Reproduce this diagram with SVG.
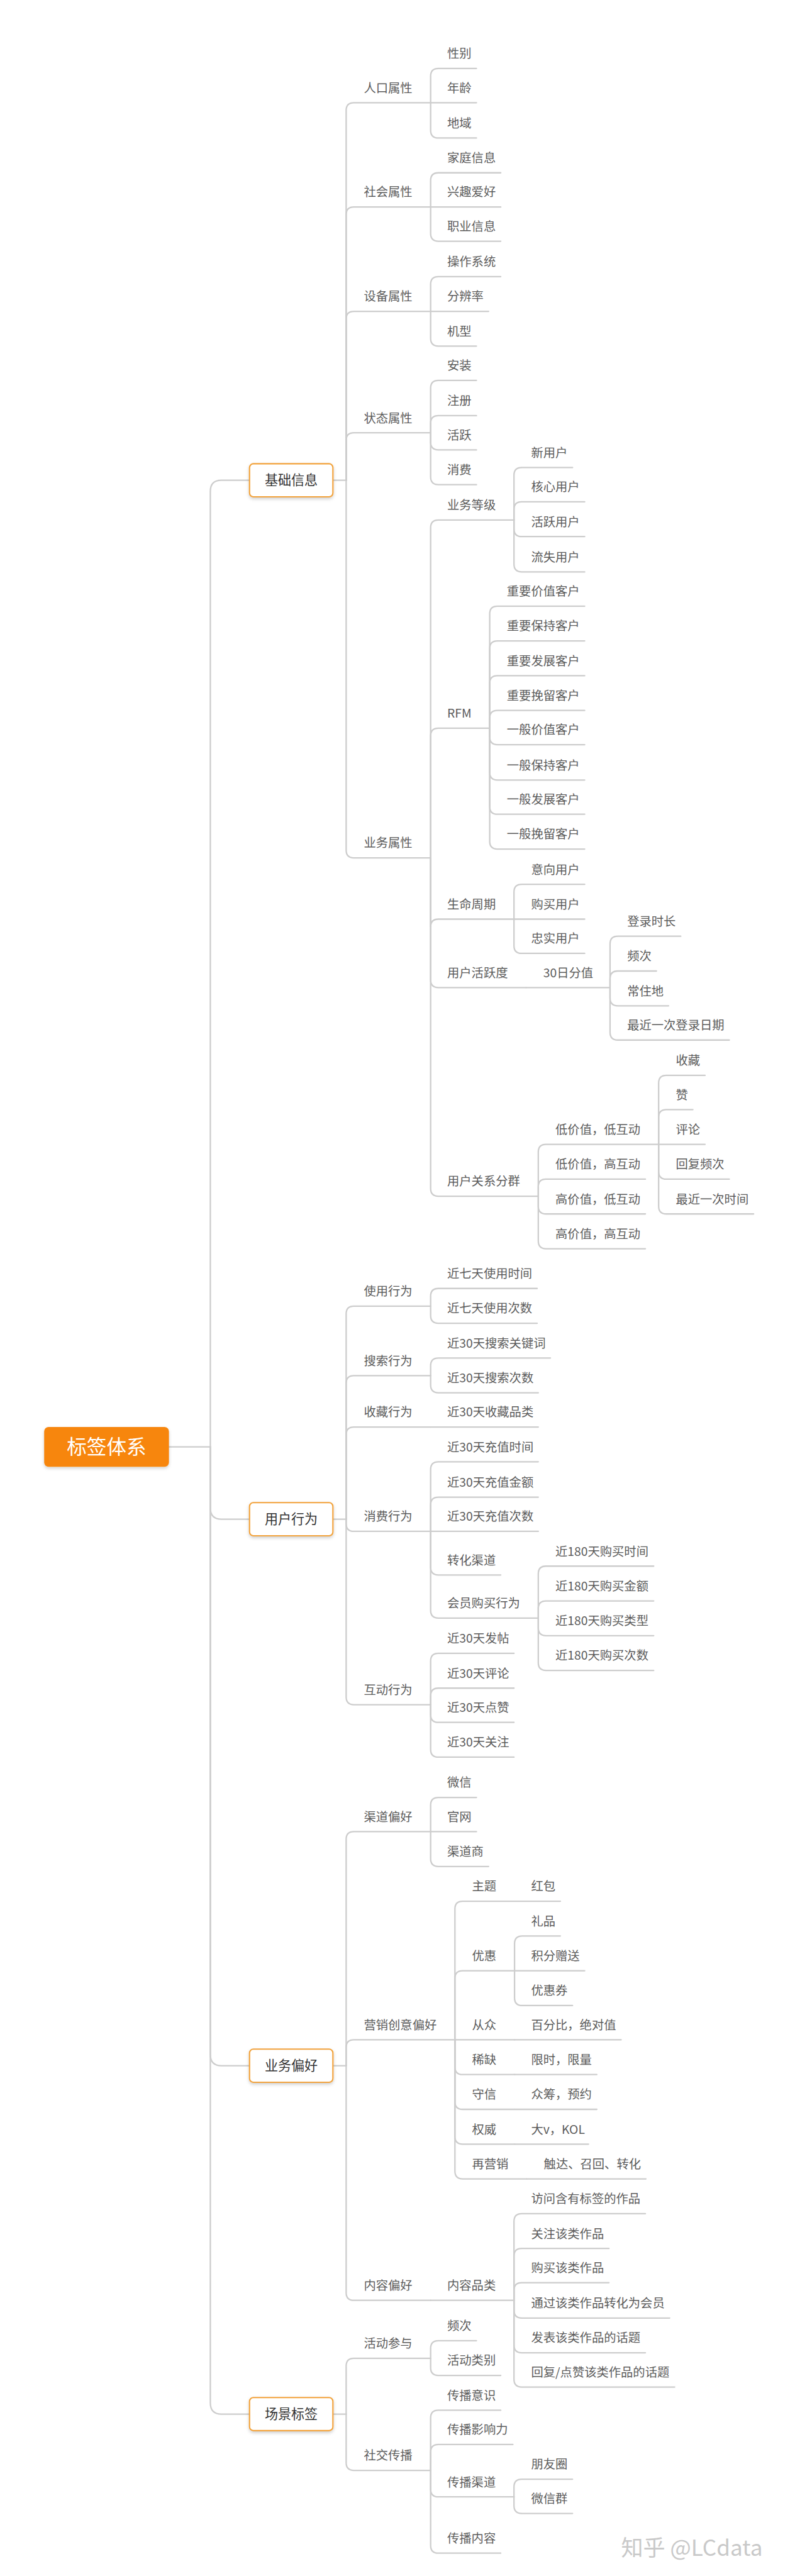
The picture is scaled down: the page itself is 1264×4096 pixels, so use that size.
<svg xmlns="http://www.w3.org/2000/svg" width="1264" height="4096" viewBox="0 0 1264 4096">
<style>
.c{fill:none;stroke:#cdcdcd;stroke-width:2.6;stroke-linecap:round}
.t{font-family:"Noto Sans CJK SC","Noto Sans",sans-serif;font-size:22px;fill:#5c5c5c}
.l1{fill:#ffffff;stroke:#f2a33c;stroke-width:2.4}
.l1t{font-family:"Noto Sans CJK SC","Noto Sans",sans-serif;font-size:24px;fill:#333333;text-anchor:middle}
.root{fill:#f7860f}
.roott{font-family:"Noto Sans CJK SC","Noto Sans",sans-serif;font-size:36px;fill:#ffffff;text-anchor:middle}
.wm{font-family:"Noto Sans CJK SC","Noto Sans",sans-serif;font-size:40px;fill:#c9c9c9}
</style>
<defs>
<filter id="sh" x="-20%" y="-30%" width="140%" height="170%">
<feDropShadow dx="0" dy="3" stdDeviation="3" flood-color="#000" flood-opacity="0.18"/>
</filter>
</defs>
<rect width="1264" height="4096" fill="#ffffff"/>
<g transform="scale(0.87778)">
<g id="connectors">
<!-- root -->
<path class="c" d="M306 2621H381"/>
<path class="c" d="M381 2621V890Q381 870 401 870H452"/>
<path class="c" d="M381 2621V2732Q381 2752 401 2752H452"/>
<path class="c" d="M381 2621V3722Q381 3742 401 3742H452"/>
<path class="c" d="M381 2621V4353Q381 4373 401 4373H452"/>
<!-- 基础信息 -->
<path class="c" d="M603 870H627"/>
<path class="c" d="M627 870V200Q627 186 641 186H780"/>
<path class="c" d="M627 870V389Q627 375 641 375H780"/>
<path class="c" d="M627 870V578Q627 564 641 564H780"/>
<path class="c" d="M627 870V798Q627 784 641 784H780"/>
<path class="c" d="M627 870V1540Q627 1554 641 1554H780"/>
<path class="c" d="M780 186V138Q780 124 794 124H863"/>
<path class="c" d="M780 186H863"/>
<path class="c" d="M780 186V236Q780 250 794 250H863"/>
<path class="c" d="M780 375V327Q780 313 794 313H907"/>
<path class="c" d="M780 375H907"/>
<path class="c" d="M780 375V423Q780 437 794 437H907"/>
<path class="c" d="M780 564V515Q780 501 794 501H907"/>
<path class="c" d="M780 564H885"/>
<path class="c" d="M780 564V613Q780 627 794 627H863"/>
<path class="c" d="M780 784V703Q780 689 794 689H863"/>
<path class="c" d="M780 784V767Q780 753 794 753H863"/>
<path class="c" d="M780 784V801Q780 815 794 815H863"/>
<path class="c" d="M780 784V864Q780 878 794 878H863"/>
<path class="c" d="M780 1554V956Q780 942 794 942H931"/>
<path class="c" d="M780 1554V1333Q780 1319 794 1319H887"/>
<path class="c" d="M780 1554V1679Q780 1665 794 1665H931"/>
<path class="c" d="M780 1554V1775Q780 1789 794 1789H953"/>
<path class="c" d="M780 1554V2153Q780 2167 794 2167H975"/>
<path class="c" d="M931 942V861Q931 847 945 847H1037"/>
<path class="c" d="M931 942V923Q931 909 945 909H1059"/>
<path class="c" d="M931 942V958Q931 972 945 972H1059"/>
<path class="c" d="M931 942V1022Q931 1036 945 1036H1059"/>
<path class="c" d="M887 1319V1112Q887 1098 901 1098H1059"/>
<path class="c" d="M887 1319V1175Q887 1161 901 1161H1059"/>
<path class="c" d="M887 1319V1238Q887 1224 901 1224H1059"/>
<path class="c" d="M887 1319V1301Q887 1287 901 1287H1059"/>
<path class="c" d="M887 1319V1335Q887 1349 901 1349H1059"/>
<path class="c" d="M887 1319V1399Q887 1413 901 1413H1059"/>
<path class="c" d="M887 1319V1461Q887 1475 901 1475H1059"/>
<path class="c" d="M887 1319V1524Q887 1538 901 1538H1059"/>
<path class="c" d="M931 1665V1616Q931 1602 945 1602H1059"/>
<path class="c" d="M931 1665H1059"/>
<path class="c" d="M931 1665V1713Q931 1727 945 1727H1059"/>
<path class="c" d="M953 1789H1105"/>
<path class="c" d="M1105 1789V1710Q1105 1696 1119 1696H1233"/>
<path class="c" d="M1105 1789V1773Q1105 1759 1119 1759H1189"/>
<path class="c" d="M1105 1789V1808Q1105 1822 1119 1822H1211"/>
<path class="c" d="M1105 1789V1870Q1105 1884 1119 1884H1321"/>
<path class="c" d="M975 2167V2087Q975 2073 989 2073H1193"/>
<path class="c" d="M975 2167V2150Q975 2136 989 2136H1169"/>
<path class="c" d="M975 2167V2185Q975 2199 989 2199H1169"/>
<path class="c" d="M975 2167V2248Q975 2262 989 2262H1169"/>
<path class="c" d="M1193 2073V1962Q1193 1948 1207 1948H1277"/>
<path class="c" d="M1193 2073V2024Q1193 2010 1207 2010H1255"/>
<path class="c" d="M1193 2073H1277"/>
<path class="c" d="M1193 2073V2122Q1193 2136 1207 2136H1321"/>
<path class="c" d="M1193 2073V2185Q1193 2199 1207 2199H1365"/>
<!-- 用户行为 -->
<path class="c" d="M603 2752H627"/>
<path class="c" d="M627 2752V2380Q627 2366 641 2366H780"/>
<path class="c" d="M627 2752V2506Q627 2492 641 2492H780"/>
<path class="c" d="M627 2752V2599Q627 2585 641 2585H780"/>
<path class="c" d="M627 2752V2760Q627 2774 641 2774H780"/>
<path class="c" d="M627 2752V3074Q627 3088 641 3088H780"/>
<path class="c" d="M780 2366V2348Q780 2334 794 2334H973"/>
<path class="c" d="M780 2366V2383Q780 2397 794 2397H973"/>
<path class="c" d="M780 2492V2474Q780 2460 794 2460H997"/>
<path class="c" d="M780 2492V2509Q780 2523 794 2523H975"/>
<path class="c" d="M780 2585H975"/>
<path class="c" d="M780 2774V2662Q780 2648 794 2648H975"/>
<path class="c" d="M780 2774V2726Q780 2712 794 2712H975"/>
<path class="c" d="M780 2774H975"/>
<path class="c" d="M780 2774V2839Q780 2853 794 2853H907"/>
<path class="c" d="M780 2774V2917Q780 2931 794 2931H975"/>
<path class="c" d="M975 2931V2851Q975 2837 989 2837H1184"/>
<path class="c" d="M975 2931V2914Q975 2900 989 2900H1184"/>
<path class="c" d="M975 2931V2949Q975 2963 989 2963H1184"/>
<path class="c" d="M975 2931V3012Q975 3026 989 3026H1184"/>
<path class="c" d="M780 3088V3009Q780 2995 794 2995H931"/>
<path class="c" d="M780 3088V3072Q780 3058 794 3058H931"/>
<path class="c" d="M780 3088V3106Q780 3120 794 3120H931"/>
<path class="c" d="M780 3088V3169Q780 3183 794 3183H931"/>
<!-- 业务偏好 -->
<path class="c" d="M603 3742H627"/>
<path class="c" d="M627 3742V3332Q627 3318 641 3318H780"/>
<path class="c" d="M627 3742V3709Q627 3695 641 3695H824"/>
<path class="c" d="M627 3742V4153Q627 4167 641 4167H780"/>
<path class="c" d="M780 3318V3270Q780 3256 794 3256H863"/>
<path class="c" d="M780 3318H863"/>
<path class="c" d="M780 3318V3367Q780 3381 794 3381H885"/>
<path class="c" d="M824 3695V3458Q824 3444 838 3444H932"/>
<path class="c" d="M824 3695V3584Q824 3570 838 3570H932"/>
<path class="c" d="M824 3695H932"/>
<path class="c" d="M824 3695V3744Q824 3758 838 3758H932"/>
<path class="c" d="M824 3695V3807Q824 3821 838 3821H932"/>
<path class="c" d="M824 3695V3870Q824 3884 838 3884H932"/>
<path class="c" d="M824 3695V3933Q824 3947 838 3947H954"/>
<path class="c" d="M932 3444H1015"/>
<path class="c" d="M932 3570V3521Q932 3507 946 3507H1015"/>
<path class="c" d="M932 3570H1059"/>
<path class="c" d="M932 3570V3619Q932 3633 946 3633H1037"/>
<path class="c" d="M932 3695H1125"/>
<path class="c" d="M932 3758H1081"/>
<path class="c" d="M932 3821H1081"/>
<path class="c" d="M932 3884H1066"/>
<path class="c" d="M954 3947H1170"/>
<path class="c" d="M780 4167H931"/>
<path class="c" d="M931 4167V4024Q931 4010 945 4010H1169"/>
<path class="c" d="M931 4167V4087Q931 4073 945 4073H1103"/>
<path class="c" d="M931 4167V4149Q931 4135 945 4135H1103"/>
<path class="c" d="M931 4167V4185Q931 4199 945 4199H1213"/>
<path class="c" d="M931 4167V4248Q931 4262 945 4262H1169"/>
<path class="c" d="M931 4167V4310Q931 4324 945 4324H1222"/>
<!-- 场景标签 -->
<path class="c" d="M603 4373H627"/>
<path class="c" d="M627 4373V4286Q627 4272 641 4272H780"/>
<path class="c" d="M627 4373V4461Q627 4475 641 4475H780"/>
<path class="c" d="M780 4272V4254Q780 4240 794 4240H863"/>
<path class="c" d="M780 4272V4289Q780 4303 794 4303H907"/>
<path class="c" d="M780 4475V4380Q780 4366 794 4366H907"/>
<path class="c" d="M780 4475V4442Q780 4428 794 4428H929"/>
<path class="c" d="M780 4475V4509Q780 4523 794 4523H931"/>
<path class="c" d="M780 4475V4611Q780 4625 794 4625H907"/>
<path class="c" d="M931 4523V4505Q931 4491 945 4491H1037"/>
<path class="c" d="M931 4523V4539Q931 4553 945 4553H1037"/>
</g>
<g id="root"><rect class="root" x="80" y="2585" width="226" height="72" rx="8" filter="url(#sh)"/><text class="roott" x="193" y="2634">标签体系</text></g>
<g id="n-jcxx"><rect class="l1" x="452" y="840" width="151" height="60" rx="7" filter="url(#sh)"/><text class="l1t" x="527.5" y="878.5">基础信息</text></g>
<g id="n-yhxw"><rect class="l1" x="452" y="2722" width="151" height="60" rx="7" filter="url(#sh)"/><text class="l1t" x="527.5" y="2760.5">用户行为</text></g>
<g id="n-ywph"><rect class="l1" x="452" y="3712" width="151" height="60" rx="7" filter="url(#sh)"/><text class="l1t" x="527.5" y="3750.5">业务偏好</text></g>
<g id="n-cjbq"><rect class="l1" x="452" y="4343" width="151" height="60" rx="7" filter="url(#sh)"/><text class="l1t" x="527.5" y="4381.5">场景标签</text></g>
<g id="nodes-jcxx">
<g id="n1"><text class="t" x="659" y="167">人口属性</text></g>
<g id="n2"><text class="t" x="810" y="105">性别</text></g>
<g id="n3"><text class="t" x="810" y="167">年龄</text></g>
<g id="n4"><text class="t" x="810" y="231">地域</text></g>
<g id="n5"><text class="t" x="659" y="356">社会属性</text></g>
<g id="n6"><text class="t" x="810" y="294">家庭信息</text></g>
<g id="n7"><text class="t" x="810" y="356">兴趣爱好</text></g>
<g id="n8"><text class="t" x="810" y="418">职业信息</text></g>
<g id="n9"><text class="t" x="659" y="545">设备属性</text></g>
<g id="n10"><text class="t" x="810" y="482">操作系统</text></g>
<g id="n11"><text class="t" x="810" y="545">分辨率</text></g>
<g id="n12"><text class="t" x="810" y="608">机型</text></g>
<g id="n13"><text class="t" x="659" y="765">状态属性</text></g>
<g id="n14"><text class="t" x="810" y="670">安装</text></g>
<g id="n15"><text class="t" x="810" y="734">注册</text></g>
<g id="n16"><text class="t" x="810" y="796">活跃</text></g>
<g id="n17"><text class="t" x="810" y="859">消费</text></g>
<g id="n18"><text class="t" x="659" y="1535">业务属性</text></g>
<g id="n19"><text class="t" x="810" y="923">业务等级</text></g>
<g id="n20"><text class="t" x="962" y="828">新用户</text></g>
<g id="n21"><text class="t" x="962" y="890">核心用户</text></g>
<g id="n22"><text class="t" x="962" y="953">活跃用户</text></g>
<g id="n23"><text class="t" x="962" y="1017">流失用户</text></g>
<g id="n24"><text class="t" x="810" y="1300">RFM</text></g>
<g id="n25"><text class="t" x="918" y="1079">重要价值客户</text></g>
<g id="n26"><text class="t" x="918" y="1142">重要保持客户</text></g>
<g id="n27"><text class="t" x="918" y="1205">重要发展客户</text></g>
<g id="n28"><text class="t" x="918" y="1268">重要挽留客户</text></g>
<g id="n29"><text class="t" x="918" y="1330">一般价值客户</text></g>
<g id="n30"><text class="t" x="918" y="1394">一般保持客户</text></g>
<g id="n31"><text class="t" x="918" y="1456">一般发展客户</text></g>
<g id="n32"><text class="t" x="918" y="1519">一般挽留客户</text></g>
<g id="n33"><text class="t" x="810" y="1646">生命周期</text></g>
<g id="n34"><text class="t" x="962" y="1583">意向用户</text></g>
<g id="n35"><text class="t" x="962" y="1646">购买用户</text></g>
<g id="n36"><text class="t" x="962" y="1708">忠实用户</text></g>
<g id="n37"><text class="t" x="810" y="1770">用户活跃度</text></g>
<g id="n38"><text class="t" x="984" y="1770">30日分值</text></g>
<g id="n39"><text class="t" x="1136" y="1677">登录时长</text></g>
<g id="n40"><text class="t" x="1136" y="1740">频次</text></g>
<g id="n41"><text class="t" x="1136" y="1803">常住地</text></g>
<g id="n42"><text class="t" x="1136" y="1865">最近一次登录日期</text></g>
<g id="n43"><text class="t" x="810" y="2148">用户关系分群</text></g>
<g id="n44"><text class="t" x="1006" y="2054">低价值，低互动</text></g>
<g id="n45"><text class="t" x="1006" y="2117">低价值，高互动</text></g>
<g id="n46"><text class="t" x="1006" y="2180">高价值，低互动</text></g>
<g id="n47"><text class="t" x="1006" y="2243">高价值，高互动</text></g>
<g id="n48"><text class="t" x="1224" y="1929">收藏</text></g>
<g id="n49"><text class="t" x="1224" y="1991">赞</text></g>
<g id="n50"><text class="t" x="1224" y="2054">评论</text></g>
<g id="n51"><text class="t" x="1224" y="2117">回复频次</text></g>
<g id="n52"><text class="t" x="1224" y="2180">最近一次时间</text></g>
</g>
<g id="nodes-yhxw">
<g id="n53"><text class="t" x="659" y="2347">使用行为</text></g>
<g id="n54"><text class="t" x="810" y="2315">近七天使用时间</text></g>
<g id="n55"><text class="t" x="810" y="2378">近七天使用次数</text></g>
<g id="n56"><text class="t" x="659" y="2473">搜索行为</text></g>
<g id="n57"><text class="t" x="810" y="2441">近30天搜索关键词</text></g>
<g id="n58"><text class="t" x="810" y="2504">近30天搜索次数</text></g>
<g id="n59"><text class="t" x="659" y="2566">收藏行为</text></g>
<g id="n60"><text class="t" x="810" y="2566">近30天收藏品类</text></g>
<g id="n61"><text class="t" x="659" y="2755">消费行为</text></g>
<g id="n62"><text class="t" x="810" y="2629">近30天充值时间</text></g>
<g id="n63"><text class="t" x="810" y="2693">近30天充值金额</text></g>
<g id="n64"><text class="t" x="810" y="2755">近30天充值次数</text></g>
<g id="n65"><text class="t" x="810" y="2834">转化渠道</text></g>
<g id="n66"><text class="t" x="810" y="2912">会员购买行为</text></g>
<g id="n67"><text class="t" x="1006" y="2818">近180天购买时间</text></g>
<g id="n68"><text class="t" x="1006" y="2881">近180天购买金额</text></g>
<g id="n69"><text class="t" x="1006" y="2944">近180天购买类型</text></g>
<g id="n70"><text class="t" x="1006" y="3007">近180天购买次数</text></g>
<g id="n71"><text class="t" x="659" y="3069">互动行为</text></g>
<g id="n72"><text class="t" x="810" y="2976">近30天发帖</text></g>
<g id="n73"><text class="t" x="810" y="3039">近30天评论</text></g>
<g id="n74"><text class="t" x="810" y="3101">近30天点赞</text></g>
<g id="n75"><text class="t" x="810" y="3164">近30天关注</text></g>
</g>
<g id="nodes-ywph">
<g id="n76"><text class="t" x="659" y="3299">渠道偏好</text></g>
<g id="n77"><text class="t" x="810" y="3237">微信</text></g>
<g id="n78"><text class="t" x="810" y="3299">官网</text></g>
<g id="n79"><text class="t" x="810" y="3362">渠道商</text></g>
<g id="n80"><text class="t" x="659" y="3676">营销创意偏好</text></g>
<g id="n81"><text class="t" x="855" y="3425">主题</text></g>
<g id="n82"><text class="t" x="962" y="3425">红包</text></g>
<g id="n83"><text class="t" x="855" y="3551">优惠</text></g>
<g id="n84"><text class="t" x="962" y="3488">礼品</text></g>
<g id="n85"><text class="t" x="962" y="3551">积分赠送</text></g>
<g id="n86"><text class="t" x="962" y="3614">优惠券</text></g>
<g id="n87"><text class="t" x="855" y="3676">从众</text></g>
<g id="n88"><text class="t" x="962" y="3676">百分比，绝对值</text></g>
<g id="n89"><text class="t" x="855" y="3739">稀缺</text></g>
<g id="n90"><text class="t" x="962" y="3739">限时，限量</text></g>
<g id="n91"><text class="t" x="855" y="3802">守信</text></g>
<g id="n92"><text class="t" x="962" y="3802">众筹，预约</text></g>
<g id="n93"><text class="t" x="855" y="3865">权威</text></g>
<g id="n94"><text class="t" x="962" y="3865">大v，KOL</text></g>
<g id="n95"><text class="t" x="855" y="3928">再营销</text></g>
<g id="n96"><text class="t" x="985" y="3928">触达、召回、转化</text></g>
<g id="n97"><text class="t" x="659" y="4148">内容偏好</text></g>
<g id="n98"><text class="t" x="810" y="4148">内容品类</text></g>
<g id="n99"><text class="t" x="962" y="3991">访问含有标签的作品</text></g>
<g id="n100"><text class="t" x="962" y="4054">关注该类作品</text></g>
<g id="n101"><text class="t" x="962" y="4116">购买该类作品</text></g>
<g id="n102"><text class="t" x="962" y="4180">通过该类作品转化为会员</text></g>
<g id="n103"><text class="t" x="962" y="4243">发表该类作品的话题</text></g>
<g id="n104"><text class="t" x="962" y="4305">回复/点赞该类作品的话题</text></g>
</g>
<g id="nodes-cjbq">
<g id="n105"><text class="t" x="659" y="4253">活动参与</text></g>
<g id="n106"><text class="t" x="810" y="4221">频次</text></g>
<g id="n107"><text class="t" x="810" y="4284">活动类别</text></g>
<g id="n108"><text class="t" x="659" y="4456">社交传播</text></g>
<g id="n109"><text class="t" x="810" y="4347">传播意识</text></g>
<g id="n110"><text class="t" x="810" y="4409">传播影响力</text></g>
<g id="n111"><text class="t" x="810" y="4504">传播渠道</text></g>
<g id="n112"><text class="t" x="962" y="4472">朋友圈</text></g>
<g id="n113"><text class="t" x="962" y="4534">微信群</text></g>
<g id="n114"><text class="t" x="810" y="4606">传播内容</text></g>
</g>
<text class="wm" x="1125" y="4630">知乎 @LCdata</text>
</g>
</svg>
